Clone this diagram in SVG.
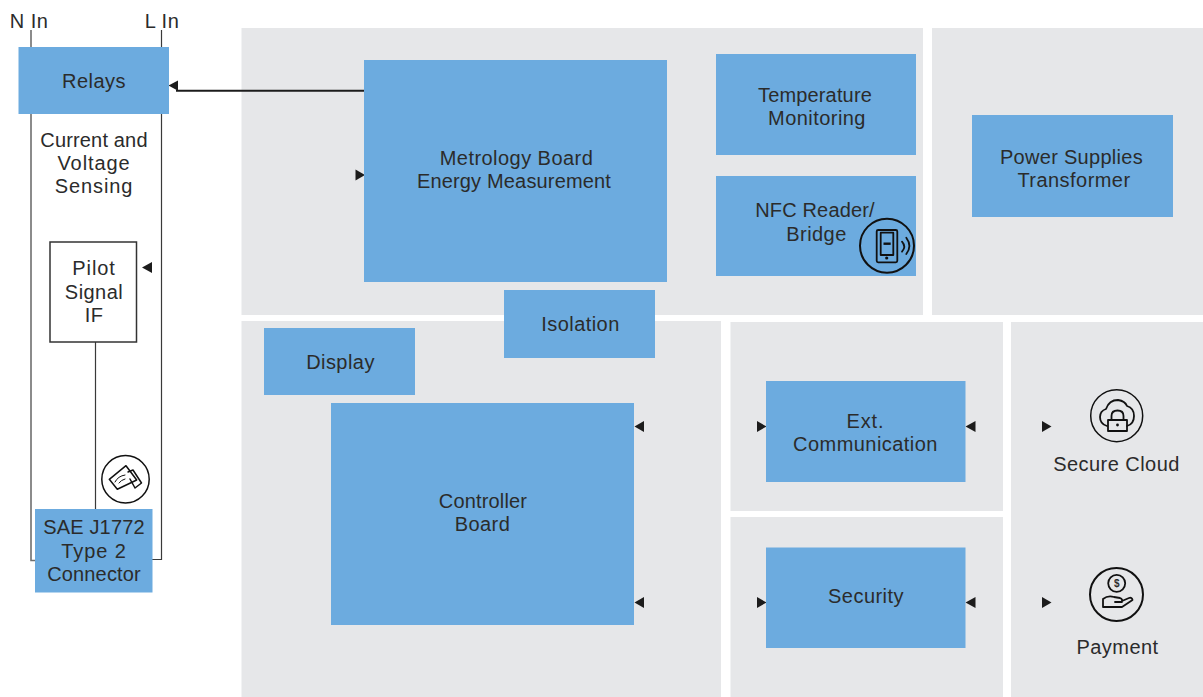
<svg xmlns="http://www.w3.org/2000/svg" width="1203" height="697" viewBox="0 0 1203 697">
<style>
.p{fill:#e6e7e9}
.b{fill:#6cabdf}
text{font-family:"Liberation Sans",Arial,sans-serif;font-size:20px;fill:#2b2b2b;text-anchor:middle;letter-spacing:.45px}
text.t{letter-spacing:.16px}
text.w{letter-spacing:.9px}
.l{fill:none;stroke:#3a3a3a;stroke-width:1.2}
.i{fill:none;stroke:#111;stroke-width:1.8;stroke-linejoin:round;stroke-linecap:round}
.a{fill:#1c1c1c}
</style>
<g id="panels">
<rect class="p" x="241.500" y="28" width="681.500" height="287"/>
<rect class="p" x="932" y="28" width="271" height="287"/>
<rect class="p" x="241.500" y="321" width="479.500" height="376"/>
<rect class="p" x="730.500" y="322" width="272.500" height="189"/>
<rect class="p" x="730.500" y="517" width="272.500" height="180"/>
<rect class="p" x="1011" y="322" width="192" height="375"/>
</g>
<g id="connectors">
<path class="l" style="stroke:#6f6f6f;stroke-width:1.600" d="M31 30V560.500H36"/>
<path class="l" d="M161.500 30V559.500H152"/>
<path class="l" d="M95.500 342V509"/>
<path d="M364 90.700H176" fill="none" stroke="#1c1c1c" stroke-width="2"/>
<path class="a" d="M168.500 85.500L178 80.500V90.700Z"/>
<path class="a" d="M355.500 169.500L365 175L355.500 180.500Z"/>
<path class="a" d="M152 262L142 267.500L152 273Z"/>
<path class="a" d="M644 421L634.500 426.500L644 432Z"/>
<path class="a" d="M644 597L634.500 602.500L644 608Z"/>
<path class="a" d="M757 421L766.500 426.500L757 432Z"/>
<path class="a" d="M757 597L766.500 602.500L757 608Z"/>
<path class="a" d="M975.500 421L965.500 426.500L975.500 432Z"/>
<path class="a" d="M975.500 597L965.500 602.500L975.500 608Z"/>
<path class="a" d="M1042 421L1051.500 426.500L1042 432Z"/>
<path class="a" d="M1042 597L1051.500 602.500L1042 608Z"/>
</g>
<g id="n-in"><text x="29" y="28">N In</text></g>
<g id="l-in"><text x="162" y="28">L In</text></g>
<g id="relays"><rect class="b" x="18.500" y="47" width="150.500" height="67"/><text x="94" y="88">Relays</text></g>
<g id="sensing"><text class="t" x="94" y="147">Current and</text><text class="w" x="94" y="170">Voltage</text><text class="w" x="94" y="193">Sensing</text></g>
<g id="pilot"><rect x="50" y="242" width="86.500" height="100" fill="#fff" stroke="#333" stroke-width="1.500"/><text class="w" x="94" y="275">Pilot</text><text x="94" y="299">Signal</text><text x="94" y="322">IF</text></g>
<g id="card-icon"><circle cx="125.500" cy="479.300" r="23.700" fill="#fff" stroke="#111" stroke-width="1.500"/>
<path class="i" style="stroke-width:1.500" d="M109.300 479.300L126 465.700L136.700 480L117.300 489.300Z"/>
<path class="i" style="stroke-width:1.500" d="M128 472L133 470L141.500 483L135 488L130 479"/>
<path class="i" style="stroke-width:1" d="M115 482Q118 476 125 475M119 483Q121 480 125 479"/></g>
<g id="connector-node"><rect class="b" x="35" y="509" width="117.500" height="83.500"/><text class="t" x="94" y="534">SAE J1772</text><text class="w" x="94" y="558">Type 2</text><text class="t" x="94" y="581">Connector</text></g>
<g id="metrology"><rect class="b" x="364" y="60" width="303" height="222"/><text x="516.500" y="165">Metrology Board</text><text class="t" x="514" y="188">Energy Measurement</text></g>
<g id="temperature"><rect class="b" x="716" y="54" width="200" height="101"/><text class="t" x="815" y="102">Temperature</text><text x="817" y="125">Monitoring</text></g>
<g id="nfc"><rect class="b" x="716" y="176" width="200" height="100"/><text class="t" x="815" y="217">NFC Reader/</text><text x="816.500" y="241">Bridge</text></g>
<g id="nfc-icon"><circle cx="887" cy="245.700" r="27" fill="none" stroke="#111" stroke-width="2"/>
<rect class="i" x="876.700" y="230" width="20.600" height="32.300" rx="1.500"/><rect class="i" x="880.700" y="232.700" width="12.600" height="22.300"/><path d="M883.500 243.700H890.700" stroke="#111" stroke-width="2.400"/><circle cx="886.700" cy="258" r="1.600" fill="#111"/><path class="i" d="M902 241.700Q906.500 246.700 902 251.700M906.300 237.700Q912.500 246 906.300 254"/></g>
<g id="power"><rect class="b" x="972" y="115" width="201" height="102"/><text class="t" x="1071.500" y="164" style="letter-spacing:.3px">Power Supplies</text><text x="1074" y="187">Transformer</text></g>
<g id="isolation"><rect class="b" x="504" y="290" width="151" height="68"/><text x="580.500" y="331">Isolation</text></g>
<g id="display"><rect class="b" x="264" y="328" width="151" height="67"/><text x="340.500" y="369">Display</text></g>
<g id="controller"><rect class="b" x="331" y="403" width="303" height="222"/><text class="t" x="483" y="508">Controller</text><text x="482.500" y="531">Board</text></g>
<g id="ext-comm"><rect class="b" x="766" y="381" width="199.500" height="101"/><text class="w" x="865.500" y="428">Ext.</text><text x="865.500" y="451">Communication</text></g>
<g id="security"><rect class="b" x="766" y="547.500" width="199.500" height="100.500"/><text x="866" y="603">Security</text></g>
<g id="cloud"><circle cx="1116.700" cy="415.700" r="26" fill="none" stroke="#111" stroke-width="1.500"/>
<path class="i" d="M1107 426Q1100 424 1100 417Q1100 411 1106 409Q1109 400 1118 400Q1125 401 1127 406Q1134 408 1134 416Q1134 424 1127 426"/>
<rect class="i" x="1108" y="420" width="19" height="11"/><path class="i" d="M1111.500 420V416Q1111.500 410.500 1117.500 410.500Q1123.500 410.500 1123.500 416V420"/><circle cx="1117.500" cy="425" r="1.400" fill="#111"/>
<text x="1116.500" y="471">Secure Cloud</text></g>
<g id="payment"><circle cx="1116.500" cy="594.500" r="26.500" fill="none" stroke="#111" stroke-width="2"/>
<circle class="i" cx="1116.700" cy="583.300" r="8.500"/><text x="1116.700" y="587" style="font-size:10px;font-weight:bold;letter-spacing:0">$</text>
<path class="i" d="M1103 607V599Q1108 595 1114 597L1120 598Q1123 599 1122 602H1115M1103 607H1122L1132.500 600Q1132 597 1129 598L1122 601"/>
<text x="1117.500" y="654">Payment</text></g>
</svg>
